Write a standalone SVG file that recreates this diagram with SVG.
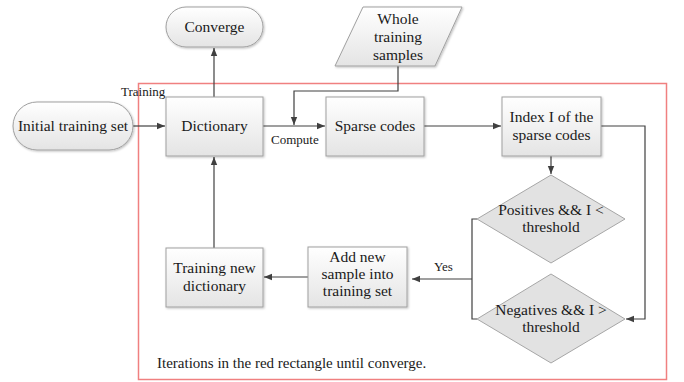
<svg xmlns="http://www.w3.org/2000/svg" width="684" height="382" viewBox="0 0 684 382">
<defs>
<linearGradient id="g" x1="0" y1="0" x2="0" y2="1">
<stop offset="0" stop-color="#ffffff"/>
<stop offset="1" stop-color="#e4e4e4"/>
</linearGradient>
<filter id="sh" x="-10%" y="-10%" width="130%" height="130%">
<feDropShadow dx="1" dy="1" stdDeviation="0.8" flood-color="#000" flood-opacity="0.25"/>
</filter>
<marker id="ah" viewBox="0 0 10 10" refX="10" refY="5" markerWidth="8" markerHeight="8" markerUnits="userSpaceOnUse" orient="auto">
<path d="M0,1 L10,5 L0,9 z" fill="#404040"/>
</marker>
</defs>
<style>
.n{fill:url(#g);stroke:#a0a0a0;stroke-width:1;filter:url(#sh)}
.d{fill:#e2e2e2;stroke:#a6a6a6;stroke-width:1}
.t{font-size:15.5px;fill:#1a1a1a;text-anchor:middle}
.s{font-size:13px;fill:#1a1a1a}
.c{fill:none;stroke:#404040;stroke-width:1.2}
</style>
<rect x="138.5" y="83.5" width="528" height="296" fill="none" stroke="#f08080" stroke-width="1.5"/>
<g id="connectors">
<path class="c" d="M133,126 H165" marker-end="url(#ah)"/>
<path class="c" d="M263,126 H325" marker-end="url(#ah)"/>
<path class="c" d="M398,66 V91 H294 V125" marker-end="url(#ah)"/>
<path class="c" d="M424,126 H501" marker-end="url(#ah)"/>
<path class="c" d="M551,156 V174" marker-end="url(#ah)"/>
<path class="c" d="M601,126 H645 V319 H626" marker-end="url(#ah)"/>
<path class="c" d="M477,219 H472 V319 H477"/>
<path class="c" d="M472,279 H412" marker-end="url(#ah)"/>
<path class="c" d="M308,277 H264" marker-end="url(#ah)"/>
<path class="c" d="M214,248 V157" marker-end="url(#ah)"/>
<path class="c" d="M214,97 V48" marker-end="url(#ah)"/>
</g>
<g font-family="'Liberation Serif', 'DejaVu Serif', serif">
<g id="converge"><rect class="n" x="166" y="7" width="97" height="40" rx="20"/><text class="t" x="214.5" y="32">Converge</text></g>
<g id="initial"><rect class="n" x="13" y="102" width="120" height="48" rx="24"/><text class="t" x="73" y="131">Initial training set</text></g>
<g id="dictionary"><rect class="n" x="166" y="97" width="97" height="59"/><text class="t" x="214.5" y="131">Dictionary</text></g>
<g id="whole"><polygon class="n" points="363,7 462,7 435,66 335,66"/><text class="t" x="398" y="24">Whole</text><text class="t" x="398" y="42">training</text><text class="t" x="398" y="60">samples</text></g>
<g id="sparse"><rect class="n" x="326" y="97" width="98" height="59"/><text class="t" x="375" y="131">Sparse codes</text></g>
<g id="index"><rect class="n" x="502" y="97" width="99" height="59"/><text class="t" x="551.5" y="122">Index I of the</text><text class="t" x="551.5" y="140">sparse codes</text></g>
<g id="positives"><polygon class="d" points="551,175 625,219 551,263 477,219"/><text class="t" x="551" y="215">Positives &amp;&amp; I &lt;</text><text class="t" x="551" y="232">threshold</text></g>
<g id="negatives"><polygon class="d" points="551,274 625,319 551,363 477,319"/><text class="t" x="551" y="315">Negatives &amp;&amp; I &gt;</text><text class="t" x="551" y="332">threshold</text></g>
<g id="addnew"><rect class="n" x="308" y="247" width="99" height="60"/><text class="t" x="357.5" y="262">Add new</text><text class="t" x="357.5" y="279">sample into</text><text class="t" x="357.5" y="296">training set</text></g>
<g id="trainnew"><rect class="n" x="166" y="248" width="97" height="59"/><text class="t" x="214.5" y="273">Training new</text><text class="t" x="214.5" y="291">dictionary</text></g>
<text class="s" x="121" y="96">Training</text>
<text class="s" x="271" y="144">Compute</text>
<text class="s" x="434" y="271">Yes</text>
<text class="s" x="157" y="368" style="font-size:15px">Iterations in the red rectangle until converge.</text>
</g>
</svg>
